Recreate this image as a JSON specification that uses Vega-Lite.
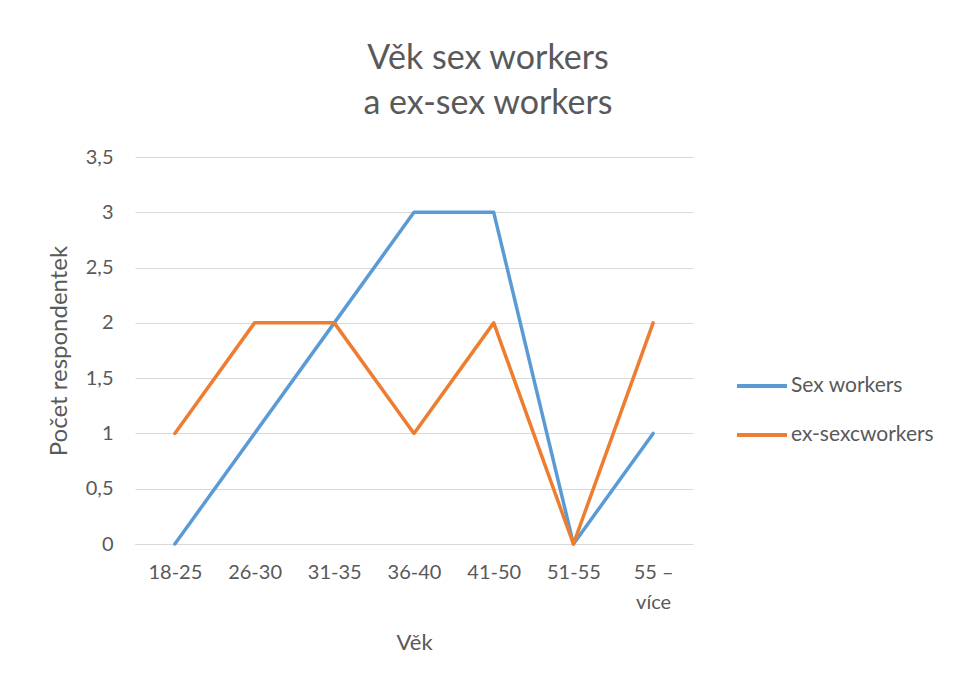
{
  "$schema": "https://vega.github.io/schema/vega-lite/v6.json",
  "width": 558,
  "height": 387,
  "autosize": {"type": "none"},
  "padding": {"left": 135, "top": 157, "right": 264, "bottom": 140},
  "background": "white",
  "title": {
    "text": ["Věk sex workers", "a ex-sex workers"],
    "anchor": "middle",
    "frame": "group",
    "dx": 74,
    "offset": 26,
    "font": "Lato",
    "fontSize": 34,
    "fontWeight": "normal",
    "lineHeight": 45,
    "color": "#595959"
  },
  "data": {
    "values": [
      {"vek": "18-25", "serie": "Sex workers", "pocet": 0},
      {"vek": "26-30", "serie": "Sex workers", "pocet": 1},
      {"vek": "31-35", "serie": "Sex workers", "pocet": 2},
      {"vek": "36-40", "serie": "Sex workers", "pocet": 3},
      {"vek": "41-50", "serie": "Sex workers", "pocet": 3},
      {"vek": "51-55", "serie": "Sex workers", "pocet": 0},
      {"vek": "55 – více", "serie": "Sex workers", "pocet": 1},
      {"vek": "18-25", "serie": "ex-sexcworkers", "pocet": 1},
      {"vek": "26-30", "serie": "ex-sexcworkers", "pocet": 2},
      {"vek": "31-35", "serie": "ex-sexcworkers", "pocet": 2},
      {"vek": "36-40", "serie": "ex-sexcworkers", "pocet": 1},
      {"vek": "41-50", "serie": "ex-sexcworkers", "pocet": 2},
      {"vek": "51-55", "serie": "ex-sexcworkers", "pocet": 0},
      {"vek": "55 – více", "serie": "ex-sexcworkers", "pocet": 2}
    ]
  },
  "mark": {"type": "line", "strokeWidth": 3.5, "strokeJoin": "round", "strokeCap": "round"},
  "encoding": {
    "x": {
      "field": "vek",
      "type": "ordinal",
      "sort": null,
      "scale": {"type": "point", "padding": 0.5},
      "axis": {
        "title": "Věk",
        "labelAngle": 0,
        "labelExpr": "datum.label == '55 – více' ? ['55 –', 'více'] : datum.label",
        "labelLineHeight": 30,
        "labelBaseline": "top",
        "labelPadding": 18,
        "ticks": false,
        "domainColor": "#d9d9d9",
        "domainWidth": 1,
        "titlePadding": 20
      }
    },
    "y": {
      "field": "pocet",
      "type": "quantitative",
      "scale": {"domain": [0, 3.5]},
      "axis": {
        "title": "Počet respondentek",
        "values": [0, 0.5, 1, 1.5, 2, 2.5, 3, 3.5],
        "labelExpr": "replace(format(datum.value, ''), '.', ',')",
        "ticks": false,
        "domain": false,
        "grid": true,
        "gridColor": "#d9d9d9",
        "gridWidth": 1,
        "labelPadding": 22,
        "titlePadding": 14,
        "titleFontSize": 24
      }
    },
    "color": {
      "field": "serie",
      "type": "nominal",
      "scale": {"domain": ["Sex workers", "ex-sexcworkers"], "range": ["#5B9BD5", "#ED7D31"]},
      "legend": {
        "title": null,
        "orient": "none",
        "legendX": 600,
        "legendY": 202,
        "symbolType": "stroke",
        "symbolSize": 2500,
        "symbolStrokeWidth": 4,
        "labelOffset": 2,
        "rowPadding": 12,
        "labelFontSize": 21,
        "labelFont": "Lato",
        "labelColor": "#595959"
      }
    }
  },
  "config": {
    "view": {"stroke": null},
    "axis": {
      "labelFont": "Lato",
      "labelFontSize": 20,
      "labelColor": "#595959",
      "titleFont": "Lato",
      "titleFontSize": 22,
      "titleFontWeight": "normal",
      "titleColor": "#595959"
    }
  }
}
